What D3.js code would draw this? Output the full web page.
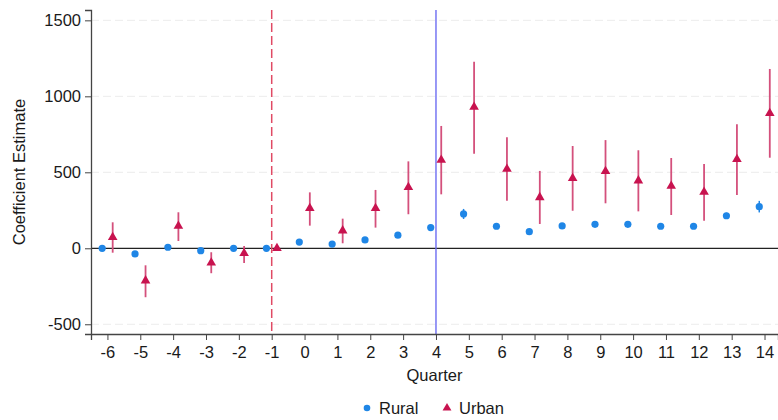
<!DOCTYPE html>
<html>
<head>
<meta charset="utf-8">
<script src="https://cdn.jsdelivr.net/npm/d3@7"></script>
<style>
    body { margin: 0; background: #fff; }
    svg text { font-family: "Liberation Sans", Arial, sans-serif; fill: #1a1a1a; }
</style>
</head>
<body>
<svg id="chart" width="778" height="420"></svg>
<script>
// event-time quarters
const quarters = [-6, -5, -4, -3, -2, -1, 0, 1, 2, 3, 4, 5, 6, 7, 8, 9, 10, 11, 12, 13, 14];

// rural estimates + 95% CI
const ruralEst = [0, -37, 7, -16, 0, 0, 41, 28, 55, 86, 136, 226, 145, 109, 147, 158, 158, 145, 145, 214, 274];
const ruralLo  = [-12, -52, -6, -30, -12, 0, 28, 14, 40, 70, 118, 193, 128, 92, 130, 140, 140, 128, 128, 194, 236];
const ruralHi  = [12, -22, 20, -2, 12, 0, 54, 42, 70, 102, 154, 259, 162, 126, 164, 176, 176, 162, 162, 234, 312];

// urban estimates + 95% CI
const urbanEst = [72, -213, 147, -95, -33, 0, 263, 116, 263, 401, 581, 930, 522, 335, 461, 507, 445, 410, 370, 586, 888];
const urbanLo  = [-29, -322, 48, -164, -97, 0, 149, 33, 136, 224, 355, 622, 313, 160, 247, 296, 243, 219, 182, 351, 596];
const urbanHi  = [171, -112, 237, -26, 15, 0, 368, 195, 384, 572, 805, 1228, 730, 509, 673, 712, 645, 594, 555, 816, 1180];

const yTicks = [-500, 0, 500, 1000, 1500];
const gridTicks = [-500, 500, 1000, 1500];
const treatQuarter = -1;
const policyQuarter = 4;

const svg = d3.select('#chart');

const margin = {top: 10, right: 0, bottom: 86, left: 91};
const W = 778, H = 420;

const x = d3.scaleLinear().domain([-6.5, 14.41]).range([margin.left, W - margin.right]);
const y = d3.scaleLinear().domain([-564, 1568]).range([H - margin.bottom, margin.top]);

const blue = '#1f86e6';
const crimson = '#c8134f';
const ciPink = '#d4507c';
const off = 0.16;
const plainNum = d => String(d); // hyphen minus, no thousands comma

// gridlines
svg.append('g')
    .selectAll('line')
    .data(gridTicks)
    .enter().append('line')
    .attr('x1', margin.left).attr('x2', W)
    .attr('y1', d => y(d)).attr('y2', d => y(d))
    .attr('stroke', '#ececec')
    .attr('stroke-width', 1)
    .attr('stroke-dasharray', '8,4');

// zero line
svg.append('line')
    .attr('x1', margin.left).attr('x2', W)
    .attr('y1', y(0)).attr('y2', y(0))
    .attr('stroke', '#222')
    .attr('stroke-width', 1.2);

// reference lines
svg.append('line')
    .attr('x1', x(treatQuarter)).attr('x2', x(treatQuarter))
    .attr('y1', y.range()[1]).attr('y2', y.range()[0])
    .attr('stroke', '#e04a64')
    .attr('stroke-width', 1.5)
    .attr('stroke-dasharray', '9,4');

svg.append('line')
    .attr('x1', x(policyQuarter)).attr('x2', x(policyQuarter))
    .attr('y1', y.range()[1]).attr('y2', y.range()[0])
    .attr('stroke', '#6c6cf2')
    .attr('stroke-width', 1.4);

// axes
const yAxis = d3.axisLeft(y).tickValues(yTicks).tickFormat(plainNum).tickSize(6).tickPadding(4);
const gy = svg.append('g')
    .attr('transform', `translate(${margin.left},0)`)
    .call(yAxis);
gy.select('.domain').attr('stroke', '#444').attr('stroke-width', 1.3);
gy.selectAll('.tick line').attr('stroke', '#444');
gy.selectAll('text').style('font-size', '16.5px').attr('fill', '#1a1a1a');

const xAxis = d3.axisBottom(x).tickValues(quarters).tickFormat(plainNum).tickSize(6).tickPadding(6);
const gx = svg.append('g')
    .attr('transform', `translate(0,${H - margin.bottom})`)
    .call(xAxis);
gx.select('.domain').attr('stroke', '#444').attr('stroke-width', 1.3);
gx.selectAll('.tick line').attr('stroke', '#444');
gx.selectAll('text').style('font-size', '16.5px').attr('fill', '#1a1a1a');

// axis titles
svg.append('text')
    .attr('transform', `translate(25,${(y.range()[0] + y.range()[1]) / 2}) rotate(-90)`)
    .attr('text-anchor', 'middle')
    .style('font-size', '16.5px')
    .text('Coefficient Estimate');

svg.append('text')
    .attr('x', (margin.left + W) / 2)
    .attr('y', 381)
    .attr('text-anchor', 'middle')
    .style('font-size', '16.5px')
    .text('Quarter');

// rural series
const rural = quarters.map((q, i) => ({q: q, est: ruralEst[i], lo: ruralLo[i], hi: ruralHi[i]}));
const urban = quarters.map((q, i) => ({q: q, est: urbanEst[i], lo: urbanLo[i], hi: urbanHi[i]}));

svg.append('g')
    .selectAll('line')
    .data(rural)
    .enter().append('line')
    .attr('x1', d => x(d.q - off)).attr('x2', d => x(d.q - off))
    .attr('y1', d => y(d.lo)).attr('y2', d => y(d.hi))
    .attr('stroke', blue)
    .attr('stroke-width', 1.5);

svg.append('g')
    .selectAll('circle')
    .data(rural)
    .enter().append('circle')
    .attr('cx', d => x(d.q - off))
    .attr('cy', d => y(d.est))
    .attr('r', 3.6)
    .attr('fill', blue);

// urban series
svg.append('g')
    .selectAll('line')
    .data(urban.filter(d => d.hi !== d.lo))
    .enter().append('line')
    .attr('x1', d => x(d.q + off)).attr('x2', d => x(d.q + off))
    .attr('y1', d => y(d.lo)).attr('y2', d => y(d.hi))
    .attr('stroke', ciPink)
    .attr('stroke-width', 1.8);

const tri = d3.symbol().type(d3.symbolTriangle).size(40);

svg.append('g')
    .selectAll('path')
    .data(urban)
    .enter().append('path')
    .attr('d', tri)
    .attr('transform', d => `translate(${x(d.q + off)},${y(d.est)})`)
    .attr('fill', crimson);

// legend
const legend = svg.append('g');
legend.append('circle')
    .attr('cx', 367).attr('cy', 408)
    .attr('r', 3.3)
    .attr('fill', blue);
legend.append('text')
    .attr('x', 379).attr('y', 414)
    .style('font-size', '16.5px')
    .text('Rural');
legend.append('path')
    .attr('d', d3.symbol().type(d3.symbolTriangle).size(34))
    .attr('transform', 'translate(447,408)')
    .attr('fill', crimson);
legend.append('text')
    .attr('x', 459).attr('y', 414)
    .style('font-size', '16.5px')
    .text('Urban');
</script>
</body>
</html>
